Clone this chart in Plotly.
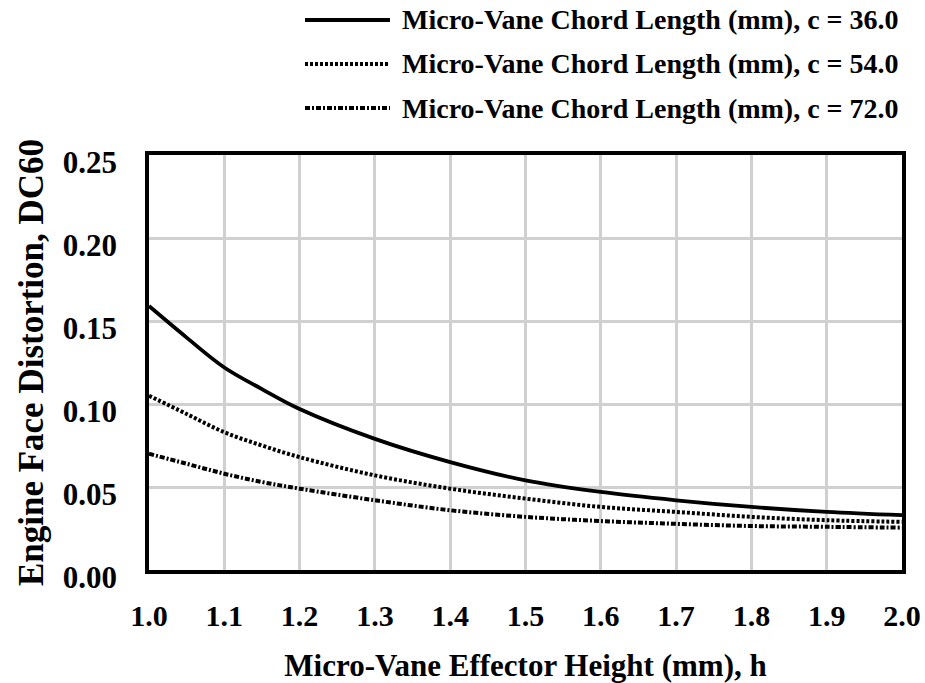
import plotly.graph_objects as go

# ---- data ----
heights = [1.0, 1.05, 1.1, 1.15, 1.2, 1.3, 1.4, 1.5, 1.6, 1.7, 1.8, 1.9, 2.0]
dc60_c36 = [0.159, 0.140, 0.122, 0.109, 0.097, 0.079, 0.065, 0.054, 0.047, 0.042, 0.038, 0.035, 0.033]
dc60_c54 = [0.105, 0.094, 0.083, 0.075, 0.068, 0.057, 0.049, 0.043, 0.038, 0.035, 0.032, 0.030, 0.029]
dc60_c72 = [0.070, 0.064, 0.058, 0.053, 0.049, 0.042, 0.036, 0.032, 0.0295, 0.0278, 0.0265, 0.026, 0.0255]
series_names = [
    "Micro-Vane Chord Length (mm), c = 36.0",
    "Micro-Vane Chord Length (mm), c = 54.0",
    "Micro-Vane Chord Length (mm), c = 72.0",
]
x_ticks = [1.0, 1.1, 1.2, 1.3, 1.4, 1.5, 1.6, 1.7, 1.8, 1.9, 2.0]
y_ticks = [0.0, 0.05, 0.10, 0.15, 0.20, 0.25]

FONT = "Liberation Serif"
dashes = ["solid", "3px,2px", "5px,2px,2px,2px"]
widths = [3.8, 4, 4]

W, H = 925, 683
L, R, T, B = 149, 23, 155, 113
PW, PH = W - L - R, H - T - B

def px_x(px):
    return (px - L) / PW

def px_y(py):
    return (H - B - py) / PH

fig = go.Figure()
for ys, name, d, w in zip([dc60_c36, dc60_c54, dc60_c72], series_names, dashes, widths):
    fig.add_trace(go.Scatter(
        x=heights, y=ys, mode="lines", name=name,
        line=dict(color="black", width=w, dash=d, shape="spline", smoothing=1.0),
        showlegend=False,
    ))

# custom legend (long line samples as in the reference)
legend_rows = [20, 64, 108]
for name, d, w, ry in zip(series_names, dashes, widths, legend_rows):
    fig.add_shape(type="line", xref="paper", yref="paper",
                  x0=px_x(305), x1=px_x(390), y0=px_y(ry), y1=px_y(ry),
                  line=dict(color="black", width=w, dash=d))
    fig.add_annotation(text="<b>%s</b>" % name, xref="paper", yref="paper",
                       x=px_x(400), y=px_y(ry), xanchor="left", yanchor="middle",
                       showarrow=False, font=dict(family=FONT, size=28, color="black"))

fig.update_layout(
    width=W, height=H,
    margin=dict(l=L, r=R, t=T, b=B, autoexpand=False),
    paper_bgcolor="white", plot_bgcolor="white",
    font=dict(family=FONT, color="black"),
    showlegend=False,
)
fig.update_xaxes(
    range=[1.0, 2.0], tickvals=x_ticks, ticktext=["<b>%.1f</b>" % v for v in x_ticks],
    tickfont=dict(family=FONT, size=30, color="black"),
    showgrid=True, gridcolor="#d0d0d0", gridwidth=3,
    showline=True, linecolor="black", linewidth=3.5, mirror=True,
    zeroline=False, ticks="", ticklabelstandoff=16,
    title=dict(text="<b>Micro-Vane Effector Height (mm), h</b>",
               font=dict(family=FONT, size=31, color="black"), standoff=26),
    automargin=False,
)
fig.update_yaxes(
    range=[0.0, 0.25], tickvals=y_ticks, ticktext=["<b>%.2f</b>" % v for v in y_ticks],
    tickfont=dict(family=FONT, size=31, color="black"),
    showgrid=True, gridcolor="#d0d0d0", gridwidth=3,
    showline=True, linecolor="black", linewidth=3.5, mirror=True,
    zeroline=False, ticks="", ticklabelstandoff=22, ticklabelshift=7,
    title=dict(text="<b>Engine Face Distortion, DC60</b>",
               font=dict(family=FONT, size=35, color="black"), standoff=10),
    automargin=False,
)

fig.write_html("out.html")
